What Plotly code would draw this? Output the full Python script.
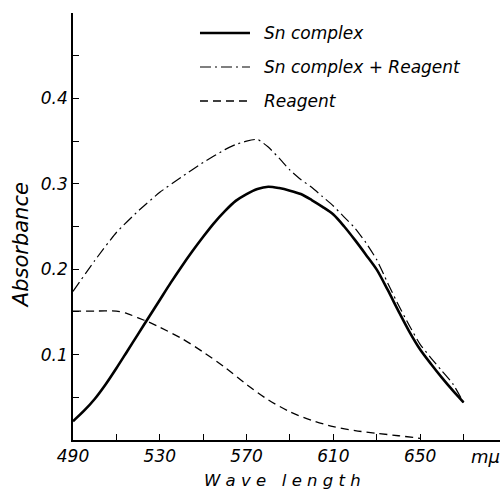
import plotly.graph_objects as go

wavelength_solid = [490, 495, 500, 505, 510, 515, 520, 525, 530, 535, 540, 545, 550, 555, 560, 565, 570, 575, 580, 585, 590, 595, 600, 605, 610, 615, 620, 625, 630, 635, 640, 645, 650, 655, 660, 665, 670]
sn_complex = [0.022, 0.034, 0.048, 0.065, 0.084, 0.104, 0.124, 0.144, 0.164, 0.184, 0.203, 0.221, 0.238, 0.254, 0.268, 0.280, 0.288, 0.294, 0.2966, 0.295, 0.292, 0.288, 0.281, 0.273, 0.264, 0.250, 0.234, 0.217, 0.1995, 0.176, 0.151, 0.127, 0.106, 0.089, 0.073, 0.058, 0.044]

wavelength_mix = [490, 500, 510, 520, 530, 540, 550, 560, 565, 570, 575, 580, 585, 590, 595, 600, 605, 610, 615, 620, 625, 630, 635, 640, 645, 650, 655, 660, 665, 670]
sn_complex_reagent = [0.174, 0.210, 0.243, 0.268, 0.290, 0.308, 0.325, 0.340, 0.346, 0.350, 0.352, 0.343, 0.330, 0.316, 0.305, 0.296, 0.285, 0.274, 0.261, 0.248, 0.231, 0.211, 0.184, 0.158, 0.134, 0.112, 0.096, 0.081, 0.066, 0.044]

wavelength_reagent = [490, 500, 510, 515, 520, 525, 530, 540, 550, 560, 570, 580, 590, 600, 610, 620, 630, 640, 650]
reagent = [0.151, 0.151, 0.151, 0.148, 0.143, 0.138, 0.132, 0.119, 0.103, 0.085, 0.065, 0.047, 0.033, 0.023, 0.0156, 0.011, 0.0078, 0.005, 0.002]

series_names = ["Sn complex", "Sn complex + Reagent", "Reagent"]

x_tick_vals = [490, 510, 530, 550, 570, 590, 610, 630, 650, 670]
x_tick_text = ["490", "", "530", "", "570", "", "610", "", "650", ""]
y_tick_vals = [0.05, 0.1, 0.15, 0.2, 0.25, 0.3, 0.35, 0.4, 0.45]
y_tick_text = ["", "0.1", "", "0.2", "", "0.3", "", "0.4", ""]

font_family = "DejaVu Sans"

line_styles = [
    dict(color="black", width=2.6, shape="spline", smoothing=0.8),
    dict(color="black", width=1.2, dash="11px,4px,2px,4px", shape="spline", smoothing=0.5),
    dict(color="black", width=1.3, dash="8px,5px", shape="spline", smoothing=0.8),
]

fig = go.Figure()
fig.add_trace(go.Scatter(x=wavelength_solid, y=sn_complex, mode="lines", name=series_names[0], line=line_styles[0]))
fig.add_trace(go.Scatter(x=wavelength_mix, y=sn_complex_reagent, mode="lines", name=series_names[1], line=line_styles[1]))
fig.add_trace(go.Scatter(x=wavelength_reagent, y=reagent, mode="lines", name=series_names[2], line=line_styles[2]))

fig.update_layout(
    width=503, height=495,
    margin=dict(l=73, r=3, t=13, b=55),
    paper_bgcolor="white", plot_bgcolor="white",
    font=dict(family=font_family, color="black", size=17, style="italic"),
    showlegend=False,
    xaxis=dict(range=[490, 686.8], showgrid=False, zeroline=False, showline=True, linecolor="black", linewidth=1.6,
               ticks="inside", ticklen=6, tickwidth=1.2, tickcolor="black",
               tickmode="array", tickvals=x_tick_vals, ticktext=x_tick_text,
               tickfont=dict(size=17, family=font_family, style="italic")),
    yaxis=dict(range=[0, 0.5], showgrid=False, zeroline=False, showline=True, linecolor="black", linewidth=1.6,
               ticks="inside", ticklen=6, tickwidth=1.2, tickcolor="black",
               tickmode="array", tickvals=y_tick_vals, ticktext=y_tick_text,
               tickfont=dict(size=17, family=font_family, style="italic")),
)

# Hand-drawn style legend (key lines + labels)
legend_y = [0.9532, 0.8735, 0.7939]
for name, style, ly in zip(series_names, line_styles, legend_y):
    fig.add_shape(type="line", xref="paper", yref="paper", x0=0.2974, x1=0.4145, y0=ly, y1=ly,
                  line=dict(color="black", width=style["width"], dash=style.get("dash", "solid")))
    fig.add_annotation(text=name, xref="paper", yref="paper", x=0.4426, y=ly, xanchor="left", yanchor="middle",
                       showarrow=False, font=dict(size=17, family=font_family, style="italic"))

fig.add_annotation(text="mμ", xref="x", yref="paper", x=680, y=0, yshift=-4, yanchor="top",
                   showarrow=False, font=dict(size=18, family=font_family, style="italic"))
fig.add_annotation(text="Absorbance", xref="paper", yref="paper", x=-0.122, y=0.456,
                   xanchor="center", yanchor="middle", textangle=-90, showarrow=False,
                   font=dict(size=21, family=font_family, style="italic"))
fig.add_annotation(text="W a v e   l e n g t h", xref="paper", yref="paper", x=0.49, y=-0.095,
                   xanchor="center", yanchor="middle", showarrow=False,
                   font=dict(size=16.5, family=font_family, style="italic"))

fig.write_html("out.html")
